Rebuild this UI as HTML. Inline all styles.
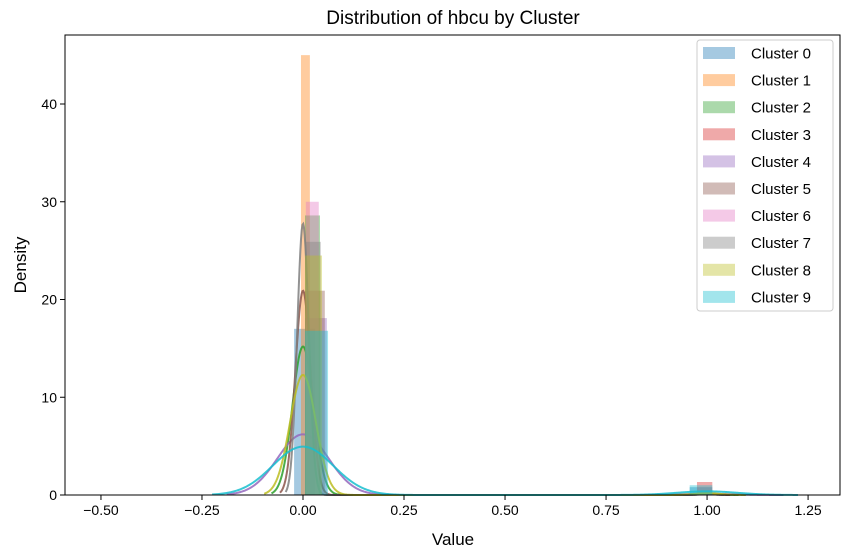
<!DOCTYPE html>
<html><head><meta charset="utf-8"><style>
html,body{margin:0;padding:0;background:#fff;}
svg{display:block;font-family:"Liberation Sans","DejaVu Sans",sans-serif;}
</style></head><body>
<svg id="chart" width="850" height="558" viewBox="0 0 850 558">
<text x="453" y="24" text-anchor="middle" font-size="19" fill="#000">Distribution of hbcu by Cluster</text>
<g id="plot"></g>
<g id="axes"></g>
<text x="453" y="545" text-anchor="middle" font-size="17" fill="#000">Value</text>
<text transform="translate(26,265) rotate(-90)" text-anchor="middle" font-size="17" fill="#000">Density</text>
<g id="legend"></g>
</svg>
<script>
const clusters = ["Cluster 0","Cluster 1","Cluster 2","Cluster 3","Cluster 4","Cluster 5","Cluster 6","Cluster 7","Cluster 8","Cluster 9"];
const colors = ["#1f77b4","#ff7f0e","#2ca02c","#d62728","#9467bd","#8c564b","#e377c2","#7f7f7f","#bcbd22","#17becf"];
const zeroBarLeft = [-0.022,-0.005,0.005,0.005,0.005,0.005,0.007,0.005,0.005,0.005];
const zeroBarRight = [0.03,0.017,0.042,0.04,0.059,0.054,0.039,0.044,0.047,0.062];
const zeroHeight = [17.0,45.0,28.6,0,18.1,20.9,30.0,25.9,24.5,16.8];
const oneBarLeft = [0.957,0.96,0.96,0.975,0.96,0.96,0.96,0.96,0.96,0.957];
const oneBarRight = [1.013,1.0,1.0,1.013,1.0,1.0,1.0,1.0,1.0,1.013];
const oneHeight = [0.8,0,0.1,1.33,0.2,0.1,0,0.1,0.2,1.0];
const kdeShare0 = [0,0,0.99,0,0.98,0.995,0,0.995,0.985,0.93];
const kdeBandwidth = [0,0,0.026,0,0.063,0.019,0,0.0143,0.032,0.075];
const xTicks = [-0.5,-0.25,0,0.25,0.5,0.75,1.0,1.25];
const xTickLabels = ["\u22120.50","\u22120.25","0.00","0.25","0.50","0.75","1.00","1.25"];
const yTicks = [0,10,20,30,40];
const yTickLabels = ["0","10","20","30","40"];

const L=65,R=840,T=35,B=495;
const xMin=-0.589,xMax=1.329,yMin=0,yMax=47.06;
const x=v=>L+(v-xMin)/(xMax-xMin)*(R-L);
const y=v=>B-(v-yMin)/(yMax-yMin)*(B-T);
const NS="http://www.w3.org/2000/svg";
function mk(tag,attrs,parent){const e=document.createElementNS(NS,tag);for(const k in attrs)e.setAttribute(k,attrs[k]);parent.appendChild(e);return e;}
const plot=document.getElementById('plot'),axes=document.getElementById('axes'),legend=document.getElementById('legend');

clusters.forEach((c,i)=>{
  if(zeroHeight[i]>0){
    const r=mk('rect',{x:x(zeroBarLeft[i]),y:y(zeroHeight[i]),width:x(zeroBarRight[i])-x(zeroBarLeft[i]),height:y(0)-y(zeroHeight[i]),fill:colors[i],'fill-opacity':0.4},plot);
    
    
  }
  if(oneHeight[i]>0){
    const r=mk('rect',{x:x(oneBarLeft[i]),y:y(oneHeight[i]),width:x(oneBarRight[i])-x(oneBarLeft[i]),height:y(0)-y(oneHeight[i]),fill:colors[i],'fill-opacity':0.4},plot);
    
    
  }
  const s=kdeBandwidth[i];
  if(s>0){
    const p0=kdeShare0[i],p1=1-p0;
    const a=-3*s,b=1+3*s;let d='';
    for(let k=0;k<=600;k++){const v=a+(b-a)*k/600;
      const dens=(p0*Math.exp(-0.5*(v/s)**2)+p1*Math.exp(-0.5*((v-1)/s)**2))/(s*Math.sqrt(2*Math.PI));
      d+=(k?'L':'M')+x(v).toFixed(2)+','+y(dens).toFixed(2);}
    const p=mk('path',{d:d,fill:'none',stroke:colors[i],'stroke-width':2,'stroke-opacity':0.85},plot);
    
    
  }
});

mk('rect',{x:L,y:T,width:R-L,height:B-T,fill:'none',stroke:'#000','stroke-width':1},axes);
xTicks.forEach((t,i)=>{
  mk('line',{x1:x(t),x2:x(t),y1:B,y2:B+5,stroke:'#000'},axes);
  const tx=mk('text',{x:x(t),y:B+20,'text-anchor':'middle','font-size':14,fill:'#000'},axes);
  tx.textContent=xTickLabels[i];
  
  
});
yTicks.forEach((t,i)=>{
  mk('line',{x1:L-5,x2:L,y1:y(t),y2:y(t),stroke:'#000'},axes);
  const tx=mk('text',{x:L-8,y:y(t)+5,'text-anchor':'end','font-size':14,fill:'#000'},axes);
  tx.textContent=yTickLabels[i];
  
  
});

mk('rect',{x:697,y:40,width:136,height:271,rx:3,fill:'#fff','fill-opacity':0.8,stroke:'#ccc'},legend);
clusters.forEach((c,i)=>{
  const yy=53+i*27.1;
  const g=mk('g',{},legend);
  
  
  mk('rect',{x:703,y:yy-6,width:32,height:12,fill:colors[i],'fill-opacity':0.4},g);
  const t=mk('text',{x:751,y:yy+5.5,'font-size':15,fill:'#000'},g);
  t.textContent=c;
});
</script>
</body></html>
